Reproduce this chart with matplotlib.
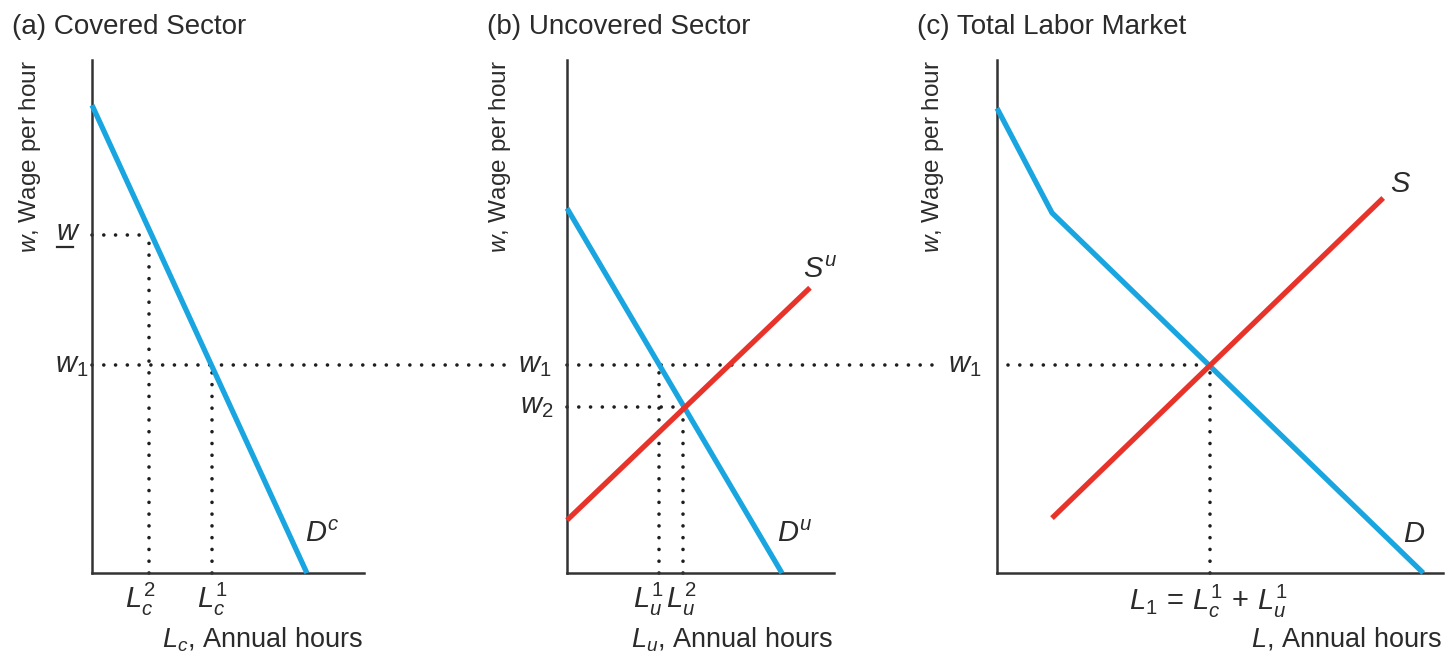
import matplotlib
matplotlib.use("Agg")
import matplotlib.pyplot as plt
from matplotlib.lines import Line2D

plt.rcParams["font.family"] = ["Liberation Sans", "DejaVu Sans"]
plt.rcParams["mathtext.fontset"] = "custom"
plt.rcParams["mathtext.rm"] = "Liberation Sans"
plt.rcParams["mathtext.it"] = "Liberation Sans:italic"
plt.rcParams["mathtext.bf"] = "Liberation Sans:bold"

# ---- wage levels (w per hour) ----
w_floor = 6.59   # minimum wage in the covered sector
w1 = 4.05        # market-clearing wage
w2 = 3.24        # wage in uncovered sector after spillover

# ---- hours employed ----
Lc1, Lc2 = 4.49, 2.12
Lu1, Lu2 = 3.45, 4.34
L1 = 7.96

# ---- curves ----
dc_hours = [0.0, 8.05]
dc_wage = [9.12, 0.0]

du_hours = [0.0, 8.05]
du_wage = [7.11, 0.0]
su_hours = [0.0, 9.10]
su_wage = [1.03, 5.56]

d_hours = [0.0, 2.06, 15.96]
d_wage = [9.06, 7.02, 0.0]
s_hours = [2.06, 14.46]
s_wage = [1.07, 7.31]

panel_titles = ["(a) Covered Sector", "(b) Uncovered Sector", "(c) Total Labor Market"]
y_title = r"$w$, Wage per hour"
x_titles = [r"$L_c$, Annual hours", r"$L_u$, Annual hours", r"$L$, Annual hours"]

BLUE = "#19a6e0"
RED = "#e8332a"
INK = "#2b2b2b"
DOT = "#1e1e1e"

W, H, DPI = 1447, 657, 100
fig = plt.figure(figsize=(W / DPI, H / DPI), dpi=DPI)


def box(left, right, top, bottom):
    return [left / W, 1 - bottom / H, (right - left) / W, (bottom - top) / H]


def fx(x):
    return x / W


def fy(y):
    return 1 - y / H


ax_a = fig.add_axes(box(92, 364, 60, 573))
ax_b = fig.add_axes(box(567, 834, 60, 573))
ax_c = fig.add_axes(box(997, 1443, 60, 573))

for ax, xmax in ((ax_a, 10.19), (ax_b, 10.0), (ax_c, 16.70)):
    ax.set_xlim(0, xmax)
    ax.set_ylim(0, 10)
    for side in ("top", "right"):
        ax.spines[side].set_visible(False)
    for side in ("left", "bottom"):
        ax.spines[side].set_color("#333333")
        ax.spines[side].set_linewidth(1.8)
    ax.set_xticks([])
    ax.set_yticks([])
    ax.patch.set_alpha(0)

dot_kw = dict(color=DOT, lw=2.6, linestyle=(0, (0.01, 3.25)),
              dash_capstyle="round", clip_on=False, zorder=2)
curve_kw = dict(lw=3.8, solid_capstyle="butt", clip_on=False, zorder=3)

# ---- (a) covered sector ----
ax_a.plot([0, Lc2], [w_floor, w_floor], **dot_kw)
ax_a.plot([Lc2, Lc2], [0, w_floor], **dot_kw)
ax_a.plot([Lc1, Lc1], [0, w1], **dot_kw)
ax_a.plot([0, 15.84], [w1, w1], **dot_kw)
ax_a.plot(dc_hours, dc_wage, color=BLUE, **curve_kw)

# ---- (b) uncovered sector ----
ax_b.plot([0, 14.08], [w1, w1], **dot_kw)
ax_b.plot([0, Lu2], [w2, w2], **dot_kw)
ax_b.plot([Lu1, Lu1], [0, w1], **dot_kw)
ax_b.plot([Lu2, Lu2], [0, w2], **dot_kw)
ax_b.plot(du_hours, du_wage, color=BLUE, **curve_kw)
ax_b.plot(su_hours, su_wage, color=RED, zorder=4,
          **{k: v for k, v in curve_kw.items() if k != "zorder"})

# ---- (c) total labor market ----
ax_c.plot([0.42, L1], [w1, w1], **dot_kw)
ax_c.plot([L1, L1], [0, w1], **dot_kw)
ax_c.plot(d_hours, d_wage, color=BLUE, solid_joinstyle="miter", **curve_kw)
ax_c.plot(s_hours, s_wage, color=RED, zorder=4,
          **{k: v for k, v in curve_kw.items() if k != "zorder"})

# ---- text ----
FS_TITLE = 20
FS = 19.5
FS_MATH = 21
FS_Y = 17.5


def label(x, y, s, ha="left", size=FS_MATH, **kw):
    fig.text(fx(x), fy(y), s, ha=ha, va="baseline", fontsize=size, color=INK, **kw)


for x0, title in zip((12, 487, 917), panel_titles):
    label(x0, 34, title, size=FS_TITLE)

for xc in (30, 500, 933):
    fig.text(fx(xc), fy(60), y_title, rotation=90, rotation_mode="anchor",
             ha="right", va="center", fontsize=FS_Y, color=INK)

for xr, t in zip((363, 833, 1442), x_titles):
    label(xr, 647, t, ha="right", size=FS)

# wage tick labels
label(56, 240, r"$w$")
fig.add_artist(Line2D([fx(57), fx(73)], [fy(247), fy(247)], color=INK, lw=1.6))
label(88, 372, r"$w_1$", ha="right")
label(551, 372, r"$w_1$", ha="right")
label(981, 372, r"$w_1$", ha="right")
label(553, 413, r"$w_2$", ha="right")

# hours tick labels
label(140, 608, r"$L_c^2$", ha="center")
label(212, 608, r"$L_c^1$", ha="center")
label(648, 608, r"$L_u^1$", ha="center")
label(681, 608, r"$L_u^2$", ha="center")
label(1208, 610, r"$L_1\,=\,L_c^1\,+\,L_u^1$", ha="center")

# curve names
label(305, 542, r"$D^c$")
label(777, 542, r"$D^u$")
label(803, 278, r"$S^u$")
label(1390, 192, r"$S$")
label(1403, 542, r"$D$")

fig.savefig("out.png", dpi=DPI, facecolor="white")
